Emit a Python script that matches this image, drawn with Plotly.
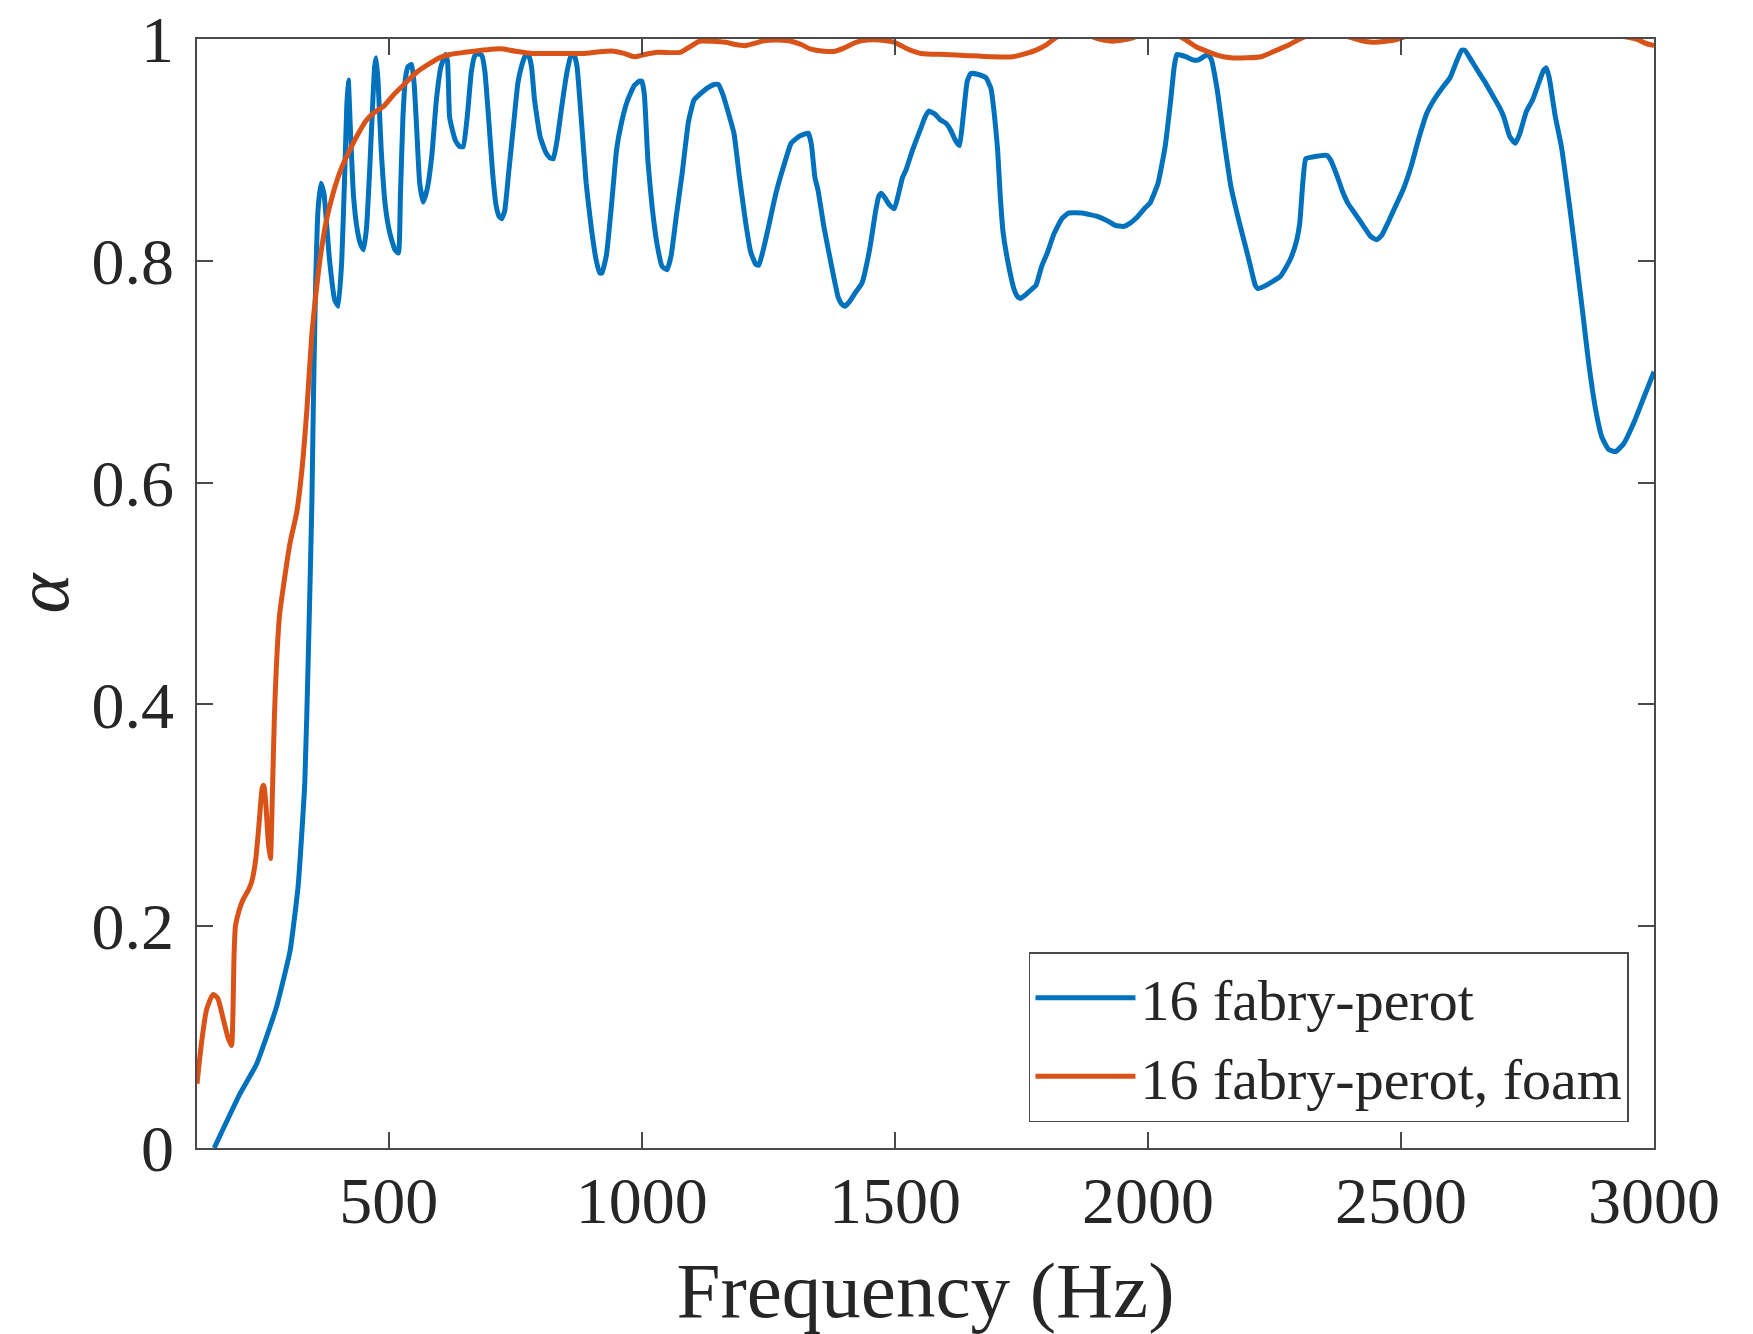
import plotly.graph_objects as go

# ---- data ----
freq_fp = [155, 206, 239, 278, 305, 321, 334, 341, 348, 351, 355, 360, 366, 372, 383, 393, 400, 407, 413, 417,
           420, 424, 430, 437, 444, 450, 456, 462, 468, 472, 475, 479, 485, 493, 502, 512, 519, 523, 528, 533,
           538, 545, 550, 555, 561, 568, 576, 585, 594, 603, 612, 616, 620, 624, 632, 640, 647, 655, 663, 670,
           677, 684, 690, 697, 705, 712, 718, 723, 729, 737, 747, 755, 762, 770, 776, 782, 788, 799, 810, 818,
           825, 833, 842, 852, 860, 866, 872, 880, 890, 900, 910, 917, 921, 930, 940, 950, 960, 972, 985, 995,
           1000, 1005, 1012, 1020, 1030, 1040, 1050, 1058, 1068, 1080, 1092, 1103, 1114, 1130, 1143, 1151, 1160,
           1170, 1182, 1193, 1205, 1215, 1225, 1231, 1240, 1250, 1265, 1280, 1295, 1310, 1320, 1329, 1335, 1342,
           1348, 1360, 1375, 1388, 1395, 1401, 1410, 1420, 1435, 1450, 1462, 1468, 1473, 1480, 1490, 1499, 1507,
           1515, 1522, 1535, 1550, 1560, 1567, 1580, 1590, 1601, 1610, 1618, 1625, 1628, 1635, 1643, 1650, 1665,
           1680, 1690, 1697, 1703, 1708, 1714, 1725, 1735, 1742, 1748, 1760, 1772, 1779, 1790, 1801, 1815, 1830,
           1843, 1870, 1900, 1920, 1935, 1952, 1965, 1980, 1995, 2004, 2020, 2034, 2045, 2052, 2057, 2075, 2090,
           2099, 2110, 2118, 2125, 2137, 2150, 2164, 2176, 2186, 2200, 2212, 2217, 2230, 2245, 2262, 2280, 2292,
           2300, 2306, 2312, 2330, 2345, 2354, 2362, 2375, 2385, 2395, 2410, 2425, 2440, 2452, 2462, 2475, 2490,
           2505, 2520, 2535, 2551, 2565, 2580, 2597, 2610, 2620, 2626, 2640, 2655, 2665, 2680, 2695, 2703, 2715,
           2726, 2735, 2748, 2760, 2772, 2782, 2787, 2793, 2805, 2817, 2833, 2848, 2860, 2870, 2885, 2897, 2910,
           2924, 2940, 2962, 2980, 3000]
alpha_fp = [0.0, 0.049, 0.076, 0.127, 0.178, 0.237, 0.329, 0.445, 0.582, 0.674, 0.771, 0.845, 0.870, 0.860, 0.80,
            0.765, 0.759, 0.80, 0.88, 0.94, 0.963, 0.92, 0.86, 0.83, 0.815, 0.810, 0.83, 0.88, 0.94, 0.975, 0.983,
            0.96, 0.90, 0.85, 0.825, 0.810, 0.807, 0.86, 0.93, 0.965, 0.975, 0.977, 0.96, 0.92, 0.87, 0.853, 0.865,
            0.895, 0.945, 0.975, 0.986, 0.98, 0.93, 0.921, 0.908, 0.903, 0.903, 0.93, 0.97, 0.985, 0.987, 0.985,
            0.97, 0.93, 0.88, 0.85, 0.84, 0.838, 0.845, 0.88, 0.925, 0.96, 0.975, 0.985, 0.986, 0.975, 0.945, 0.912,
            0.898, 0.893, 0.892, 0.91, 0.94, 0.97, 0.985, 0.986, 0.975, 0.93, 0.87, 0.83, 0.80, 0.789, 0.789, 0.805,
            0.85, 0.90, 0.925, 0.945, 0.958, 0.962, 0.962, 0.95, 0.89, 0.85, 0.815, 0.795, 0.792, 0.805, 0.84, 0.88,
            0.925, 0.945, 0.950, 0.956, 0.959, 0.959, 0.95, 0.935, 0.915, 0.875, 0.835, 0.808, 0.797, 0.796, 0.81,
            0.83, 0.861, 0.885, 0.906, 0.912, 0.914, 0.915, 0.905, 0.875, 0.864, 0.83, 0.795, 0.767, 0.761, 0.759,
            0.763, 0.77, 0.780, 0.81, 0.845, 0.858, 0.861, 0.857, 0.85, 0.847, 0.86, 0.875, 0.882, 0.90, 0.918,
            0.93, 0.935, 0.932, 0.927, 0.924, 0.918, 0.91, 0.905, 0.904, 0.93, 0.962, 0.969, 0.968, 0.965, 0.955,
            0.93, 0.900, 0.86, 0.825, 0.795, 0.775, 0.768, 0.766, 0.770, 0.775, 0.778, 0.795, 0.807, 0.825, 0.838,
            0.843, 0.843, 0.840, 0.836, 0.832, 0.831, 0.834, 0.840, 0.848, 0.852, 0.870, 0.903, 0.945, 0.975, 0.986,
            0.984, 0.981, 0.981, 0.984, 0.986, 0.982, 0.954, 0.91, 0.867, 0.843, 0.825, 0.80, 0.778, 0.775, 0.777,
            0.781, 0.786, 0.80, 0.815, 0.834, 0.87, 0.892, 0.894, 0.895, 0.895, 0.89, 0.875, 0.862, 0.852, 0.842,
            0.832, 0.822, 0.819, 0.823, 0.835, 0.85, 0.865, 0.885, 0.910, 0.933, 0.945, 0.955, 0.965, 0.980, 0.990,
            0.990, 0.980, 0.969, 0.962, 0.950, 0.938, 0.930, 0.912, 0.906, 0.915, 0.935, 0.945, 0.960, 0.972, 0.974,
            0.965, 0.93, 0.903, 0.85, 0.795, 0.75, 0.711, 0.665, 0.641, 0.630, 0.628, 0.635, 0.656, 0.677, 0.700]

freq_foam = [121, 130, 140, 153, 162, 172, 182, 189, 192, 194, 197, 204, 212, 222, 229, 237, 245, 250, 253, 257,
             262, 266, 270, 274, 278, 284, 291, 305, 318, 328, 338, 348, 356, 364, 376, 390, 405, 423, 440, 456,
             472, 489, 510, 529, 555, 581, 600, 621, 650, 687, 710, 726, 750, 786, 830, 884, 917, 944, 965, 985,
             1005, 1031, 1076, 1095, 1114, 1140, 1166, 1185, 1204, 1222, 1242, 1270, 1295, 1315, 1333, 1360, 1382,
             1400, 1423, 1445, 1469, 1499, 1525, 1552, 1600, 1643, 1690, 1733, 1760, 1779, 1800, 1816, 1840, 1870,
             1896, 1912, 1930, 1950, 1970, 2000, 2040, 2072, 2095, 2118, 2140, 2164, 2195, 2224, 2255, 2280, 2300,
             2330, 2370, 2411, 2428, 2445, 2470, 2495, 2530, 2600, 2700, 2800, 2900, 2965, 2984, 3000]
alpha_foam = [0.058, 0.095, 0.125, 0.1385, 0.135, 0.118, 0.100, 0.0925, 0.12, 0.17, 0.20, 0.214, 0.224, 0.232,
              0.240, 0.26, 0.30, 0.325, 0.327, 0.31, 0.275, 0.261, 0.32, 0.39, 0.4355, 0.48, 0.504, 0.546, 0.573,
              0.61, 0.665, 0.734, 0.77, 0.801, 0.835, 0.861, 0.882, 0.900, 0.915, 0.927, 0.934, 0.939, 0.950,
              0.9585, 0.97, 0.978, 0.983, 0.986, 0.988, 0.990, 0.991, 0.991, 0.989, 0.987, 0.987, 0.987, 0.9886,
              0.989, 0.987, 0.984, 0.986, 0.988, 0.988, 0.993, 0.998, 0.998, 0.997, 0.995, 0.994, 0.996, 0.9985,
              0.999, 0.998, 0.995, 0.991, 0.989, 0.989, 0.992, 0.997, 0.999, 0.999, 0.997, 0.991, 0.987, 0.986,
              0.985, 0.984, 0.984, 0.987, 0.990, 0.995, 1.0006, 1.006, 1.006, 1.001, 0.999, 0.998, 0.999, 1.001,
              1.006, 1.006, 1.0, 0.993, 0.9886, 0.985, 0.983, 0.983, 0.984, 0.990, 0.995, 1.0, 1.005, 1.005, 1.0,
              0.998, 0.997, 0.998, 1.0, 1.006, 1.01, 1.01, 1.008, 1.005, 1.0, 0.996, 0.994]

x_ticks = [500, 1000, 1500, 2000, 2500, 3000]
y_ticks = [0, 0.2, 0.4, 0.6, 0.8, 1]
y_tick_text = ["0", "0.2", "0.4", "0.6", "0.8", "1"]
series_names = ["16 fabry-perot", "16 fabry-perot, foam"]
series_colors = ["#0072BD", "#D95319"]

FONT = "Liberation Serif, DejaVu Serif, serif"
TXT = "#262626"
AX = "#4a4a4a"

fig = go.Figure()
fig.add_trace(go.Scatter(x=freq_fp, y=alpha_fp, mode="lines", name=series_names[0],
                         line=dict(color=series_colors[0], width=5, shape="spline", smoothing=0.4)))
fig.add_trace(go.Scatter(x=freq_foam, y=alpha_foam, mode="lines", name=series_names[1],
                         line=dict(color=series_colors[1], width=5, shape="spline", smoothing=0.6)))

axis_common = dict(showline=True, linecolor=AX, linewidth=1.5, mirror="ticks",
                   ticks="inside", ticklen=16, tickwidth=1.5, tickcolor=AX,
                   showgrid=False, zeroline=False, automargin=False,
                   tickfont=dict(family=FONT, size=66, color=TXT))

fig.update_xaxes(range=[121, 3000], tickvals=x_ticks, ticktext=[str(v) for v in x_ticks],
                 title=dict(text="Frequency (Hz)", font=dict(family=FONT, size=79, color=TXT), standoff=40),
                 ticklabelstandoff=-6, **axis_common)
fig.update_yaxes(range=[0, 1], tickvals=y_ticks, ticktext=y_tick_text,
                 title=dict(text="<i>α</i>", font=dict(family=FONT, size=76, color=TXT), standoff=40),
                 ticklabelstandoff=8, **axis_common)

fig.update_layout(
    width=1753, height=1334,
    margin=dict(l=197, r=99, t=39, b=186),
    paper_bgcolor="white", plot_bgcolor="white",
    showlegend=True,
    legend=dict(x=0.9828, y=0.0234, xanchor="right", yanchor="bottom",
                bgcolor="white", bordercolor=AX, borderwidth=1.5,
                font=dict(family=FONT, size=58, color=TXT),
                itemwidth=100, tracegroupgap=0),
)

fig.write_html("out.html")
